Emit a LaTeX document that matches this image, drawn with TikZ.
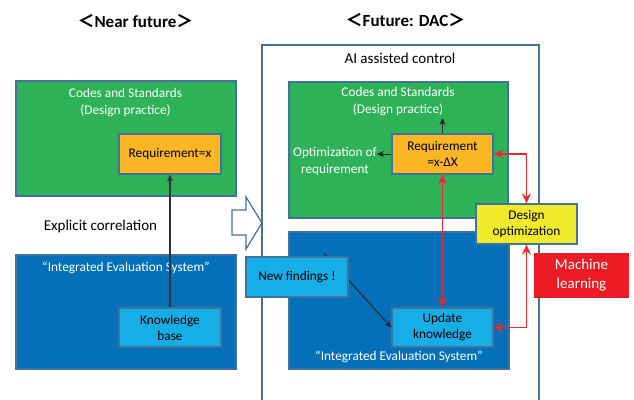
\documentclass[tikz,border=0pt]{standalone}
\usepackage{fontspec}
\setmainfont{Carlito}
\newfontfamily\cjkfont{Noto Sans CJK JP}
\usetikzlibrary{arrows.meta}
\definecolor{bordercol}{RGB}{65,113,156}
\definecolor{boxgreen}{RGB}{46,178,87}
\definecolor{boxblue}{RGB}{5,112,186}
\definecolor{lightblue}{RGB}{22,174,230}
\definecolor{reqorange}{RGB}{251,182,36}
\definecolor{optyellow}{RGB}{240,235,40}
\definecolor{mlred}{RGB}{237,28,36}
\definecolor{arrowred}{RGB}{237,40,48}
\tikzset{
  x=1pt, y=-1pt,
  box/.style={draw=bordercol, line width=1.2pt, rectangle, inner sep=0pt, align=center},
  bigbox/.style={box, minimum width=220pt},
  smallbox/.style={box, minimum width=102pt, minimum height=40pt, font=\fontsize{13.3}{16}\selectfont, text=black},
  whitetxt/.style={text=white, font=\fontsize{13.3}{17}\selectfont, align=center, inner sep=0pt},
  plaintxt/.style={font=\fontsize{15}{18}\selectfont, inner sep=0pt, align=center},
  titletxt/.style={font=\fontsize{17}{20}\selectfont\bfseries, inner sep=0pt},
  redtip/.tip={Stealth[length=10pt,width=9pt,inset=3.5pt]},
  redarrow/.style={draw=arrowred, line width=1.6pt, redtip-redtip},
  blackarrow/.style={draw=black!85, line width=1pt, -{Stealth[length=7pt,width=6pt]}}
}
\begin{document}
\begin{tikzpicture}
\useasboundingbox (0,0) rectangle (634,399);
% titles
\node[titletxt] (t1) at (135.5,21.5) {{\cjkfont ＜}Near future{\cjkfont ＞}};
\node[titletxt] (t2) at (405.5,20.5) {{\cjkfont ＜}Future: DAC{\cjkfont ＞}};
% outer container
\draw[draw=bordercol, line width=1.5pt] (262,399.5) -- (262,45) -- (539,45) -- (539,399.5);
\node[plaintxt] (ai) at (400,58) {AI assisted control};
% left side
\node[bigbox, fill=boxgreen, minimum height=115pt] (g1) at (126,138.5) {};
\node[whitetxt] (cs1) at (125.5,102.5) {Codes and Standards\\(Design practice)};
\node[smallbox, fill=reqorange] (rq1) at (170,154) {Requirement=x};
\node[plaintxt] (ec) at (100.5,226) {Explicit correlation};
\node[bigbox, fill=boxblue, minimum height=114pt] (b1) at (126,312) {};
\node[whitetxt] (ies1) at (126,268) {“Integrated Evaluation System”};
\node[smallbox, fill=lightblue, minimum height=39pt] (kb) at (170,327.5) {Knowledge\\base};
\draw[draw=black!80, line width=1.1pt, -{Stealth[length=7pt,width=6pt]}] (kb.north) -- (rq1.south);
% hollow arrow
\draw[draw=bordercol, line width=1.2pt, fill=white] (232,210) -- (246,210) -- (246,197) -- (262,223) -- (246,249) -- (246,235) -- (232,235) -- cycle;
% right side
\node[bigbox, fill=boxgreen, minimum width=219pt, minimum height=136pt] (g2) at (398.5,150) {};
\node[whitetxt] (cs2) at (398,102) {Codes and Standards\\(Design practice)};
\node[smallbox, fill=reqorange, minimum width=101pt] (rq2) at (442.5,154) {Requirement\\=x-ΔX};
\coordinate (up2) at (442.5,118);
\draw[blackarrow] (rq2.north) -- (up2);
\node[whitetxt] (opt) at (335,161) {Optimization of\\requirement};
\draw[blackarrow] (rq2.west) -- (opt.east |- rq2.west);
\node[bigbox, fill=boxblue, minimum height=137pt] (b2) at (399,300.5) {};
\node[whitetxt] (ies2) at (399,357) {“Integrated Evaluation System”};
\node[smallbox, fill=lightblue, minimum width=101pt, minimum height=39pt] (uk) at (442.5,327.5) {Update\\knowledge};
\coordinate (nfs) at (324,253);
\draw[blackarrow] (nfs) -- (uk.west);
\node[smallbox, fill=lightblue] (nf) at (297,277) {New findings !};
\node[smallbox, fill=optyellow, minimum width=101pt] (do) at (526.5,224) {Design\\optimization};
\node[rectangle, fill=mlred, minimum width=95pt, minimum height=45pt, inner sep=0pt, text=white, align=center, font=\fontsize{15}{19}\selectfont] (ml) at (581.5,275.5) {Machine\\learning};
% red connectors
\draw[redarrow] (rq2.south) -- (uk.north);
\draw[redarrow] (rq2.east) -| (do.north);
\draw[redarrow] (do.south) |- (uk.east);
\end{tikzpicture}
\end{document}
